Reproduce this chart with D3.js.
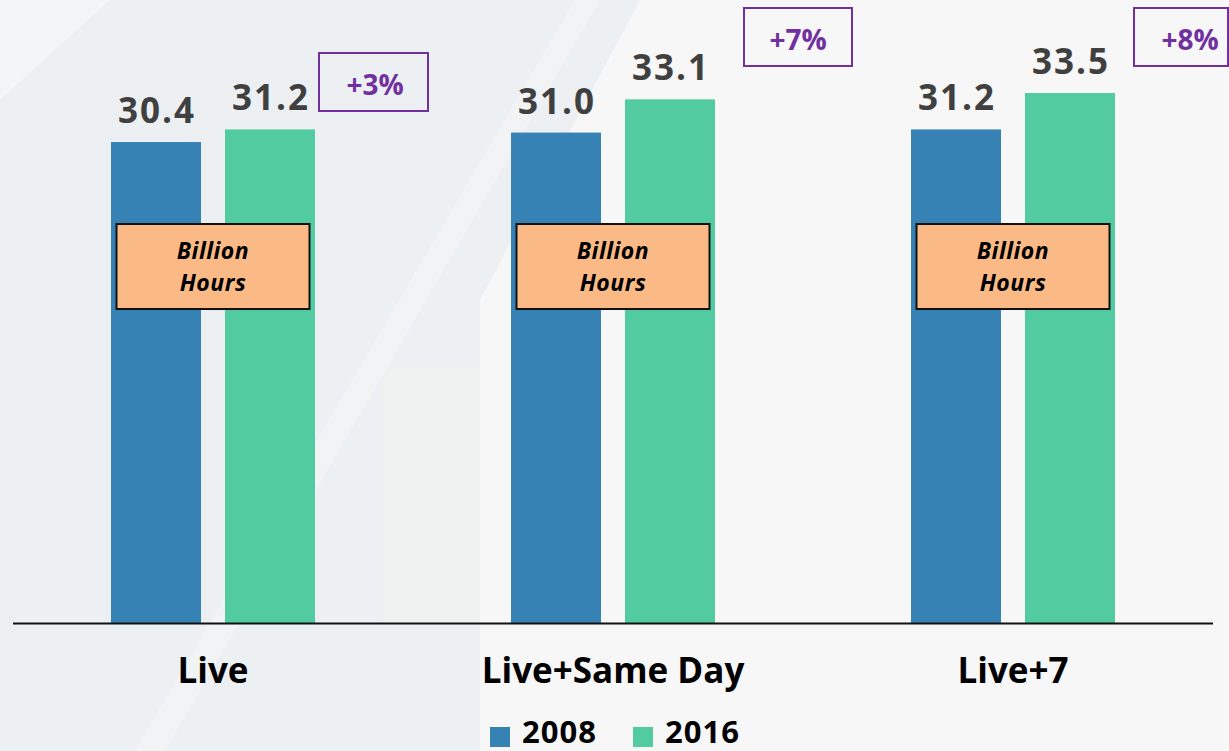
<!DOCTYPE html>
<html>
<head>
<meta charset="utf-8">
<script src="https://cdn.jsdelivr.net/npm/d3@7"></script>
<style>
  html, body { margin: 0; padding: 0; background: #F7F7F7; }
  svg { display: block; font-family: "Open Sans", "DejaVu Sans", sans-serif; }
</style>
</head>
<body>
<svg id="chart" width="1229" height="751"></svg>
<script>
// ---- data ----
const categories = ["Live", "Live+Same Day", "Live+7"];
const seriesNames = ["2008", "2016"];
const values2008 = [30.4, 31.0, 31.2];
const values2016 = [31.2, 33.1, 33.5];
const changeLabels = ["+3%", "+7%", "+8%"];
const unitLabel = ["Billion", "Hours"];
const colors = ["#3782B5", "#52CBA0"];

const W = 1229, H = 751;
const svg = d3.select("#chart");

// ---- background ----
const bg = svg.append("g");
bg.append("rect").attr("width", W).attr("height", H).attr("fill", "#F7F7F7");
bg.append("path").attr("d", "M0,0 L640,0 L480,300 L480,751 L0,751 Z").attr("fill", "#EDF0F3");
bg.append("path").attr("d", "M380,365 L480,365 L480,622 L380,622 Z").attr("fill", "#EDF2F0");
bg.append("path").attr("d", "M575,0 L600,0 L165,751 L135,751 Z").attr("fill", "#F1F3F5");
bg.append("path").attr("d", "M0,0 L110,0 L0,100 Z").attr("fill", "#F3F5F7");

// ---- scales ----
const x = d3.scaleBand().domain(categories).range([13, 1213]);
const inner = d3.scaleBand().domain(seriesNames).range([-102, 102]).paddingInner(0.2105);
const y = d3.scaleLinear().domain([0, 39.38]).range([623, 0]);

const rows = categories.map((c, i) => ({
  cat: c,
  vals: [values2008[i], values2016[i]],
  change: changeLabels[i]
}));

const groups = svg.append("g").selectAll("g").data(rows).join("g")
  .attr("transform", d => `translate(${x(d.cat) + x.bandwidth() / 2},0)`);

// bars
groups.selectAll("rect.bar").data(d => d.vals.map((v, j) => ({ s: seriesNames[j], v, j })))
  .join("rect").attr("class", "bar")
  .attr("x", d => inner(d.s))
  .attr("width", inner.bandwidth())
  .attr("y", d => y(d.v))
  .attr("height", d => y(0) - y(d.v))
  .attr("fill", d => colors[d.j]);

// value labels
groups.selectAll("text.val").data(d => d.vals.map((v, j) => ({ s: seriesNames[j], v, j })))
  .join("text").attr("class", "val")
  .attr("x", d => inner(d.s) + inner.bandwidth() / 2 + 1)
  .attr("y", d => y(d.v) - 19)
  .attr("text-anchor", "middle")
  .attr("font-size", 35)
  .attr("font-weight", 700)
  .attr("letter-spacing", 2)
  .attr("fill", "#404040")
  .text(d => d3.format(".1f")(d.v));

// "Billion Hours" boxes
const ub = groups.append("g").attr("transform", `translate(0,${y(25.22)})`);
ub.append("rect").attr("x", -96.5).attr("y", 0).attr("width", 193).attr("height", 85)
  .attr("fill", "#FBBA85").attr("stroke", "#111").attr("stroke-width", 2);
ub.selectAll("text").data(unitLabel).join("text")
  .attr("x", 0).attr("y", (d, i) => 35 + i * 32)
  .attr("text-anchor", "middle")
  .attr("font-size", 23).attr("font-weight", 700).attr("font-style", "italic")
  .attr("letter-spacing", 0.5)
  .attr("fill", "#000").text(d => d);

// change annotation boxes
const boxDefs = [
  { dx: 106, top: 53, w: 109, tx: 162 },
  { dx: 131, top: 8, w: 108, tx: 185 },
  { dx: 121, top: 8, w: 94, tx: 177 }
];
groups.each(function (d, i) {
  const g = d3.select(this);
  const b = boxDefs[i];
  g.append("rect").attr("x", b.dx).attr("y", b.top).attr("width", b.w).attr("height", 58)
    .attr("fill", "none").attr("stroke", "#7030A0").attr("stroke-width", 2);
  g.append("text").attr("x", b.tx).attr("y", b.top + 42)
    .attr("text-anchor", "middle").attr("font-size", 28).attr("font-weight", 700)
    .attr("fill", "#7030A0").text(d.change);
});

// x axis
const xAxis = svg.append("g").attr("transform", `translate(0,${y(0)})`)
  .call(d3.axisBottom(x).tickSize(0).tickPadding(0));
xAxis.select(".domain").attr("stroke", "#111").attr("stroke-width", 2)
  .attr("d", "M13,0.5H1213");
xAxis.selectAll(".tick text")
  .attr("dy", 0).attr("y", 60)
  .attr("font-size", 35).attr("font-weight", 700)
  .attr("font-family", "'Open Sans', sans-serif")
  .attr("fill", "#000");

// legend
const legendItems = [
  { name: seriesNames[0], color: colors[0], x: 490 },
  { name: seriesNames[1], color: colors[1], x: 633 }
];
const lg = svg.append("g").selectAll("g").data(legendItems).join("g")
  .attr("transform", d => `translate(${d.x},727)`);
lg.append("rect").attr("width", 20).attr("height", 20).attr("fill", d => d.color);
lg.append("text").attr("x", 32).attr("y", 16).attr("font-size", 31).attr("font-weight", 700)
  .attr("letter-spacing", 1)
  .attr("fill", "#000").text(d => d.name);
</script>
</body>
</html>
